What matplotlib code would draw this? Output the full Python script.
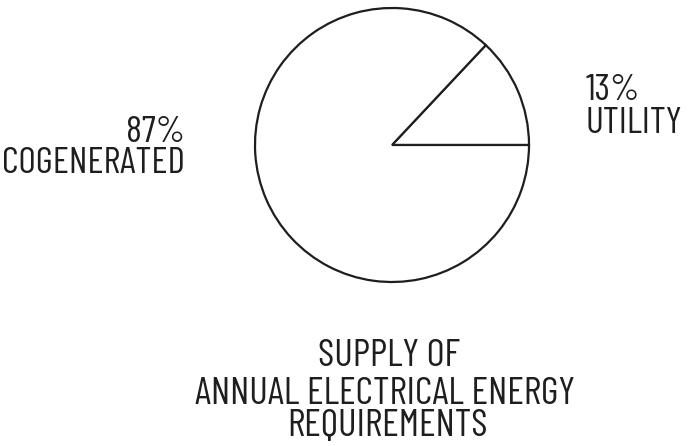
import matplotlib.pyplot as plt

# share of annual electrical energy
labels = ['UTILITY', 'COGENERATED']
shares = [13, 87]
title_lines = ['SUPPLY OF', 'ANNUAL ELECTRICAL ENERGY', 'REQUIREMENTS']

plt.rcParams['font.family'] = ['Barlow Condensed', 'DejaVu Sans']
ink = '#1e1e1e'
fs = 27

fig = plt.figure(figsize=(6.99, 4.46), dpi=100)
ax = fig.add_axes([0, 0, 1, 1])

ax.pie(shares, startangle=0, counterclock=True, center=(392, 301), radius=137,
       colors=['white', 'white'],
       wedgeprops=dict(edgecolor=ink, linewidth=1.6))
ax.set_xlim(0, 699)
ax.set_ylim(0, 446)
ax.set_aspect('equal')
ax.axis('off')

ax.text(185, 304, f'{shares[1]}%', ha='right', va='baseline', fontsize=fs, color=ink)
ax.text(185, 273, labels[1], ha='right', va='baseline', fontsize=fs, color=ink)
ax.text(586, 346, f'{shares[0]}%', ha='left', va='baseline', fontsize=fs, color=ink)
ax.text(586, 313, labels[0], ha='left', va='baseline', fontsize=fs, color=ink)

# title block under the pie
for (x, y), line in zip([(389, 80), (385, 42), (387, 10)], title_lines):
    ax.text(x, y, line, ha='center', va='baseline', fontsize=28, color=ink)

fig.savefig('out.png', dpi=100)
